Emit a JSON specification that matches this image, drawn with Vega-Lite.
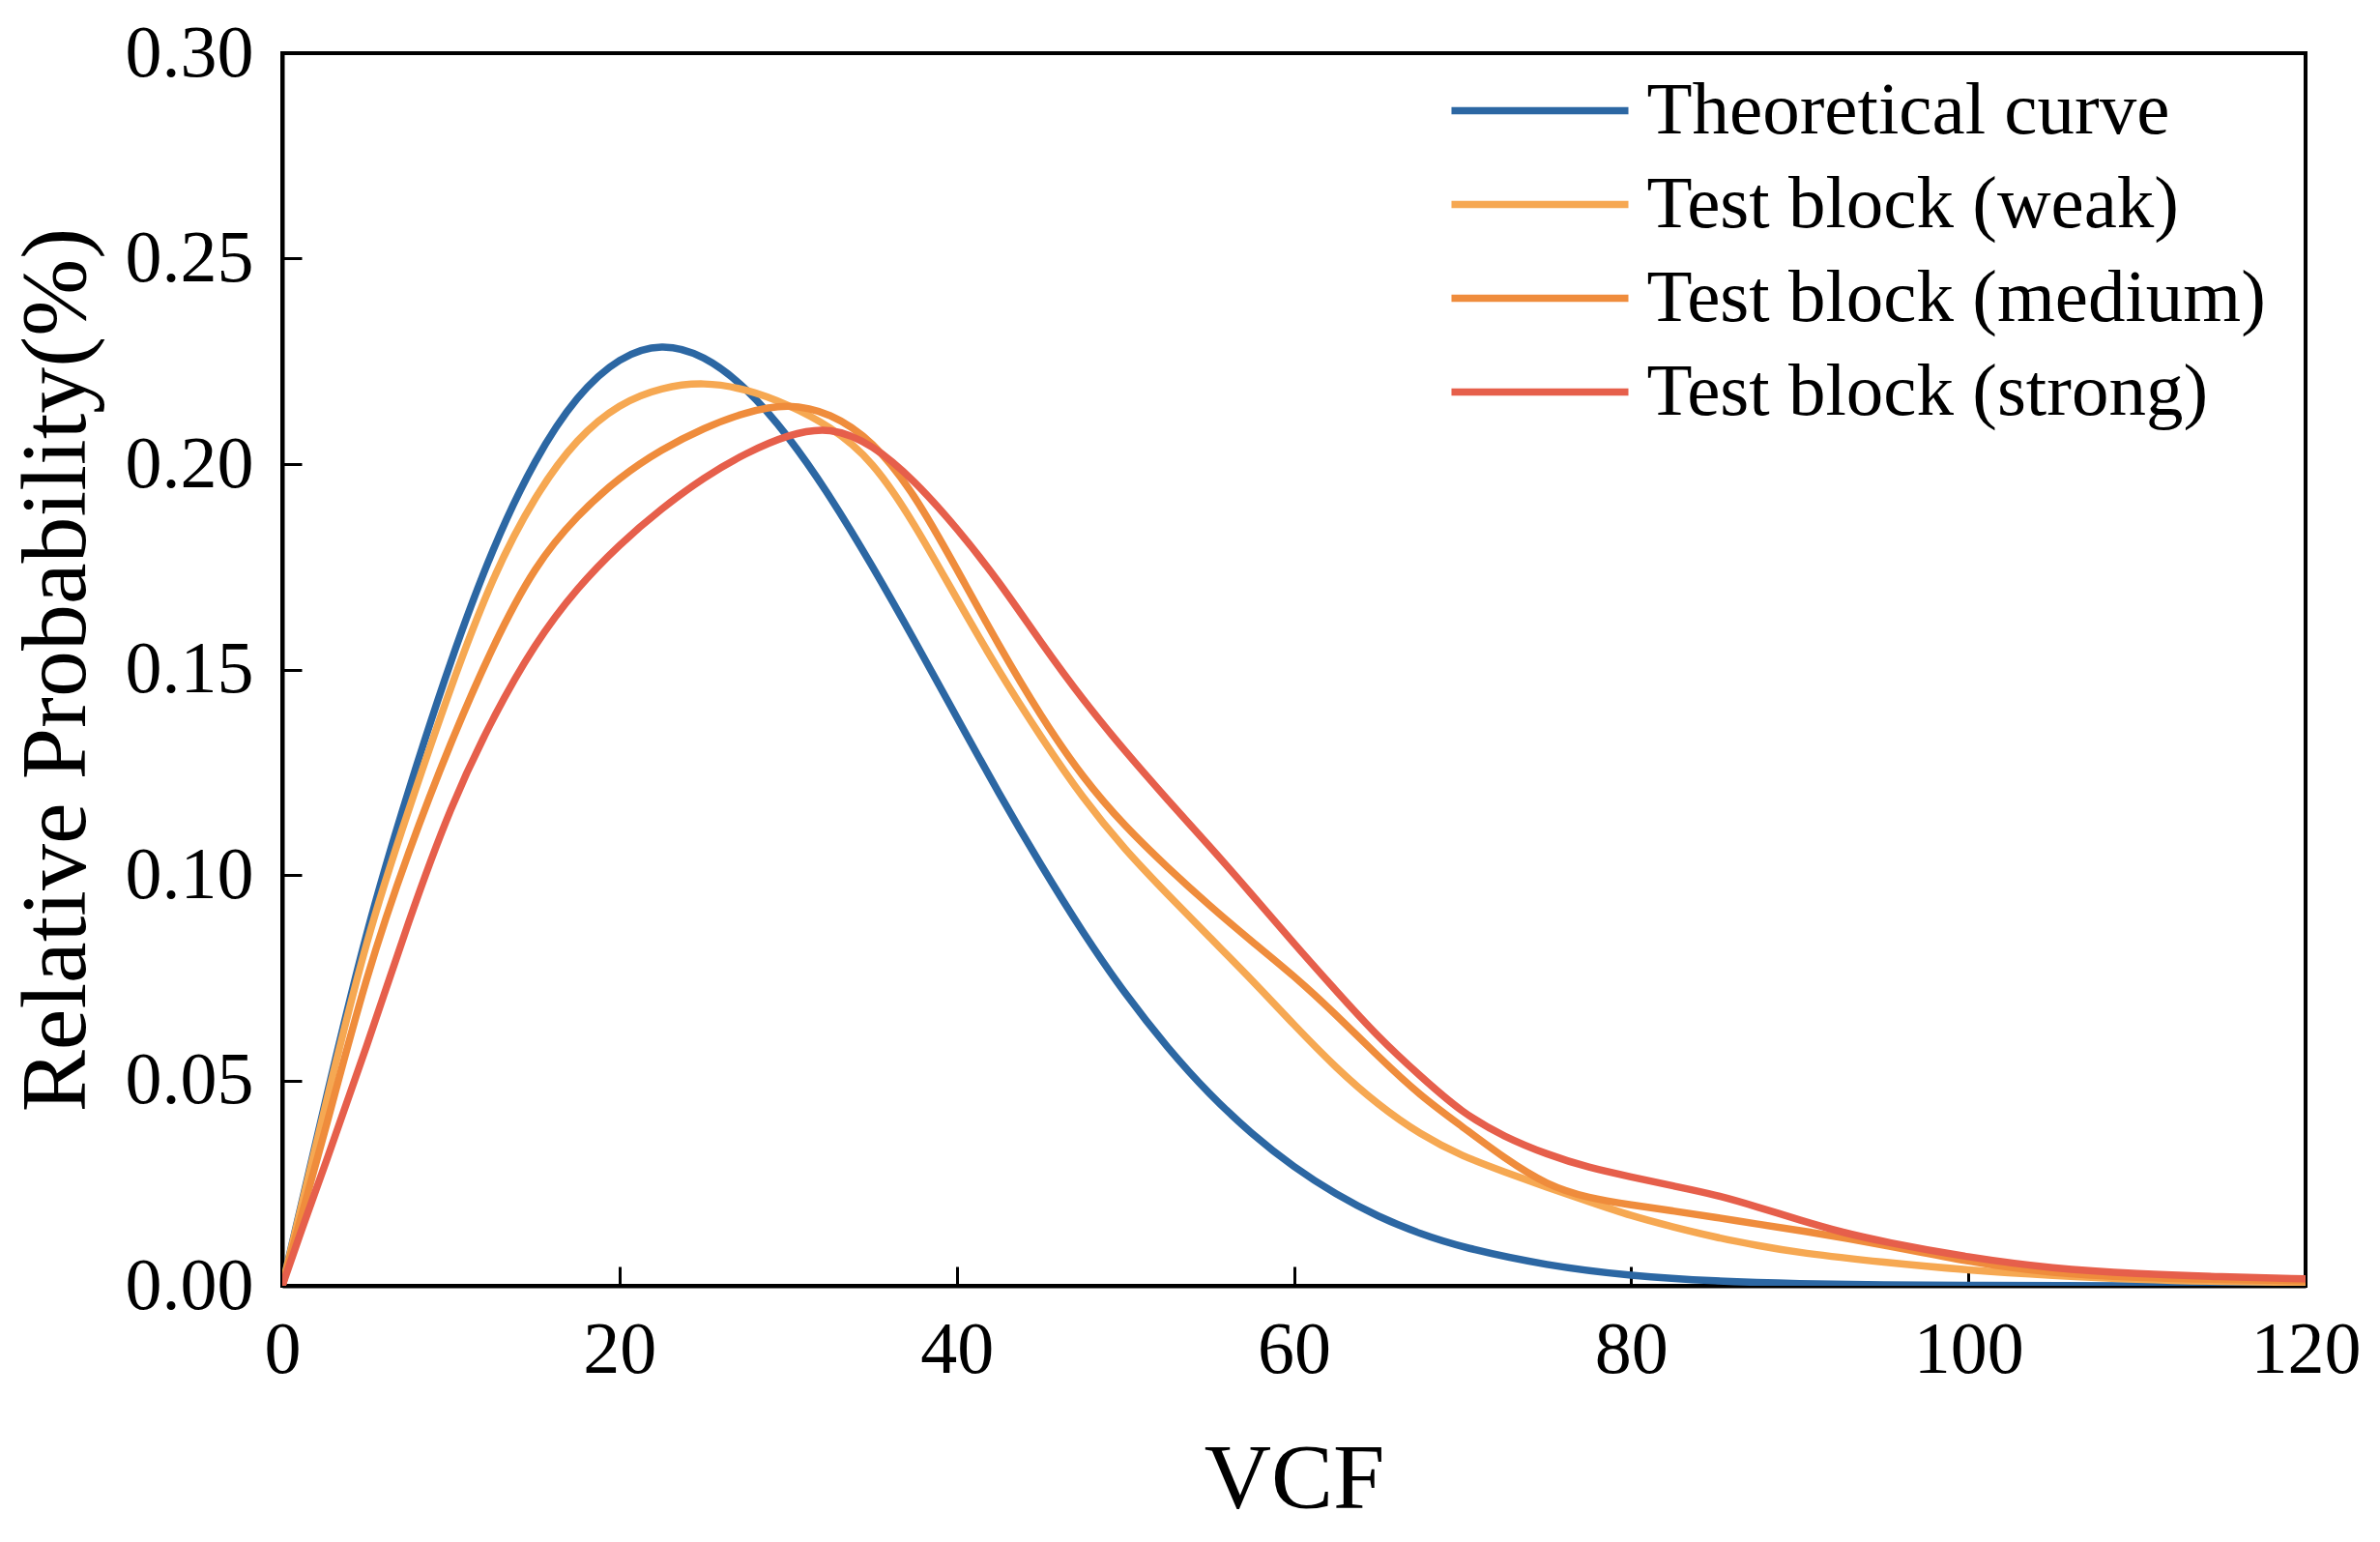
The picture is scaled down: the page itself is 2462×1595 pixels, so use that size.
{
  "$schema": "https://vega.github.io/schema/vega-lite/v6.json",
  "width": 2093,
  "height": 1275,
  "autosize": "none",
  "padding": {"left": 292, "top": 55, "right": 77, "bottom": 265},
  "background": "white",
  "config": {"view": {"stroke": "black", "strokeWidth": 4}, "font": "Liberation Serif"},
  "data": {"values": [
    {"s":"Theoretical curve","x":0,"y":0},{"s":"Theoretical curve","x":1,"y":0.0175},{"s":"Theoretical curve","x":2.5,"y":0.044},{"s":"Theoretical curve","x":5,"y":0.087},{"s":"Theoretical curve","x":7.5,"y":0.121},{"s":"Theoretical curve","x":10,"y":0.1525},{"s":"Theoretical curve","x":12.5,"y":0.18},{"s":"Theoretical curve","x":15,"y":0.2015},{"s":"Theoretical curve","x":17.5,"y":0.217},{"s":"Theoretical curve","x":20,"y":0.2262},{"s":"Theoretical curve","x":22.5,"y":0.2295},{"s":"Theoretical curve","x":25,"y":0.2266},{"s":"Theoretical curve","x":27.5,"y":0.2188},{"s":"Theoretical curve","x":30,"y":0.207},{"s":"Theoretical curve","x":32.5,"y":0.1922},{"s":"Theoretical curve","x":35,"y":0.1752},{"s":"Theoretical curve","x":37.5,"y":0.1571},{"s":"Theoretical curve","x":40,"y":0.1384},{"s":"Theoretical curve","x":42.5,"y":0.1198},{"s":"Theoretical curve","x":45,"y":0.1023},{"s":"Theoretical curve","x":47.5,"y":0.0858},{"s":"Theoretical curve","x":50,"y":0.0709},{"s":"Theoretical curve","x":52.5,"y":0.0579},{"s":"Theoretical curve","x":55,"y":0.0465},{"s":"Theoretical curve","x":57.5,"y":0.0369},{"s":"Theoretical curve","x":60,"y":0.0288},{"s":"Theoretical curve","x":62.5,"y":0.0222},{"s":"Theoretical curve","x":65,"y":0.0168},{"s":"Theoretical curve","x":67.5,"y":0.0126},{"s":"Theoretical curve","x":70,"y":0.0093},{"s":"Theoretical curve","x":75,"y":0.0049},{"s":"Theoretical curve","x":80,"y":0.0024},{"s":"Theoretical curve","x":85,"y":0.0011},{"s":"Theoretical curve","x":90,"y":0.0005},{"s":"Theoretical curve","x":95,"y":0.0002},{"s":"Theoretical curve","x":100,"y":0.0001},{"s":"Theoretical curve","x":110,"y":0},{"s":"Theoretical curve","x":120,"y":0},
    {"s":"Test block (weak)","x":0,"y":0},{"s":"Test block (weak)","x":1,"y":0.017},{"s":"Test block (weak)","x":2.5,"y":0.043},{"s":"Test block (weak)","x":5,"y":0.085},{"s":"Test block (weak)","x":7.5,"y":0.116},{"s":"Test block (weak)","x":10,"y":0.146},{"s":"Test block (weak)","x":12.5,"y":0.173},{"s":"Test block (weak)","x":15,"y":0.1925},{"s":"Test block (weak)","x":17.5,"y":0.2065},{"s":"Test block (weak)","x":20,"y":0.2148},{"s":"Test block (weak)","x":22.5,"y":0.2187},{"s":"Test block (weak)","x":25,"y":0.2200},{"s":"Test block (weak)","x":27.5,"y":0.2183},{"s":"Test block (weak)","x":30,"y":0.2145},{"s":"Test block (weak)","x":32.5,"y":0.2092},{"s":"Test block (weak)","x":35,"y":0.2010},{"s":"Test block (weak)","x":37.5,"y":0.1855},{"s":"Test block (weak)","x":40,"y":0.1672},{"s":"Test block (weak)","x":42.5,"y":0.1495},{"s":"Test block (weak)","x":45,"y":0.1335},{"s":"Test block (weak)","x":47.5,"y":0.1185},{"s":"Test block (weak)","x":50,"y":0.106},{"s":"Test block (weak)","x":52.5,"y":0.0953},{"s":"Test block (weak)","x":55,"y":0.0848},{"s":"Test block (weak)","x":57.5,"y":0.0745},{"s":"Test block (weak)","x":60,"y":0.0635},{"s":"Test block (weak)","x":62.5,"y":0.053},{"s":"Test block (weak)","x":65,"y":0.044},{"s":"Test block (weak)","x":67.5,"y":0.0368},{"s":"Test block (weak)","x":70,"y":0.0315},{"s":"Test block (weak)","x":72.5,"y":0.0277},{"s":"Test block (weak)","x":75,"y":0.024},{"s":"Test block (weak)","x":77.5,"y":0.0205},{"s":"Test block (weak)","x":80,"y":0.017},{"s":"Test block (weak)","x":82.5,"y":0.0143},{"s":"Test block (weak)","x":85,"y":0.0118},{"s":"Test block (weak)","x":87.5,"y":0.0098},{"s":"Test block (weak)","x":90,"y":0.008},{"s":"Test block (weak)","x":95,"y":0.0057},{"s":"Test block (weak)","x":100,"y":0.0038},{"s":"Test block (weak)","x":105,"y":0.0025},{"s":"Test block (weak)","x":110,"y":0.0015},{"s":"Test block (weak)","x":115,"y":0.001},{"s":"Test block (weak)","x":120,"y":0.0008},
    {"s":"Test block (medium)","x":0,"y":0},{"s":"Test block (medium)","x":1,"y":0.015},{"s":"Test block (medium)","x":2.5,"y":0.037},{"s":"Test block (medium)","x":5,"y":0.076},{"s":"Test block (medium)","x":7.5,"y":0.106},{"s":"Test block (medium)","x":10,"y":0.1325},{"s":"Test block (medium)","x":12.5,"y":0.156},{"s":"Test block (medium)","x":15,"y":0.1755},{"s":"Test block (medium)","x":17.5,"y":0.1876},{"s":"Test block (medium)","x":20,"y":0.1968},{"s":"Test block (medium)","x":22.5,"y":0.2036},{"s":"Test block (medium)","x":25,"y":0.2088},{"s":"Test block (medium)","x":27.5,"y":0.2127},{"s":"Test block (medium)","x":30,"y":0.2148},{"s":"Test block (medium)","x":32.5,"y":0.2125},{"s":"Test block (medium)","x":35,"y":0.2058},{"s":"Test block (medium)","x":37.5,"y":0.1928},{"s":"Test block (medium)","x":40,"y":0.1745},{"s":"Test block (medium)","x":42.5,"y":0.1558},{"s":"Test block (medium)","x":45,"y":0.1385},{"s":"Test block (medium)","x":47.5,"y":0.1235},{"s":"Test block (medium)","x":50,"y":0.1117},{"s":"Test block (medium)","x":52.5,"y":0.1018},{"s":"Test block (medium)","x":55,"y":0.0925},{"s":"Test block (medium)","x":57.5,"y":0.0838},{"s":"Test block (medium)","x":60,"y":0.0755},{"s":"Test block (medium)","x":62.5,"y":0.066},{"s":"Test block (medium)","x":65,"y":0.0558},{"s":"Test block (medium)","x":67.5,"y":0.0462},{"s":"Test block (medium)","x":70,"y":0.0387},{"s":"Test block (medium)","x":72.5,"y":0.031},{"s":"Test block (medium)","x":75,"y":0.0245},{"s":"Test block (medium)","x":77.5,"y":0.0213},{"s":"Test block (medium)","x":80,"y":0.0197},{"s":"Test block (medium)","x":82.5,"y":0.0182},{"s":"Test block (medium)","x":85,"y":0.0167},{"s":"Test block (medium)","x":87.5,"y":0.015},{"s":"Test block (medium)","x":90,"y":0.0135},{"s":"Test block (medium)","x":95,"y":0.01},{"s":"Test block (medium)","x":100,"y":0.0058},{"s":"Test block (medium)","x":105,"y":0.003},{"s":"Test block (medium)","x":110,"y":0.002},{"s":"Test block (medium)","x":115,"y":0.0015},{"s":"Test block (medium)","x":120,"y":0.0012},
    {"s":"Test block (strong)","x":0,"y":0},{"s":"Test block (strong)","x":1,"y":0.012},{"s":"Test block (strong)","x":2.5,"y":0.029},{"s":"Test block (strong)","x":5,"y":0.058},{"s":"Test block (strong)","x":7.5,"y":0.089},{"s":"Test block (strong)","x":10,"y":0.117},{"s":"Test block (strong)","x":12.5,"y":0.1385},{"s":"Test block (strong)","x":15,"y":0.1565},{"s":"Test block (strong)","x":17.5,"y":0.17},{"s":"Test block (strong)","x":20,"y":0.1805},{"s":"Test block (strong)","x":22.5,"y":0.1892},{"s":"Test block (strong)","x":25,"y":0.1968},{"s":"Test block (strong)","x":27.5,"y":0.2027},{"s":"Test block (strong)","x":30,"y":0.2072},{"s":"Test block (strong)","x":32.5,"y":0.2092},{"s":"Test block (strong)","x":35,"y":0.2048},{"s":"Test block (strong)","x":37.5,"y":0.196},{"s":"Test block (strong)","x":40,"y":0.1845},{"s":"Test block (strong)","x":42.5,"y":0.1715},{"s":"Test block (strong)","x":45,"y":0.1565},{"s":"Test block (strong)","x":47.5,"y":0.1425},{"s":"Test block (strong)","x":50,"y":0.13},{"s":"Test block (strong)","x":52.5,"y":0.1183},{"s":"Test block (strong)","x":55,"y":0.107},{"s":"Test block (strong)","x":57.5,"y":0.0953},{"s":"Test block (strong)","x":60,"y":0.0833},{"s":"Test block (strong)","x":62.5,"y":0.0718},{"s":"Test block (strong)","x":65,"y":0.0605},{"s":"Test block (strong)","x":67.5,"y":0.051},{"s":"Test block (strong)","x":70,"y":0.042},{"s":"Test block (strong)","x":72.5,"y":0.0362},{"s":"Test block (strong)","x":75,"y":0.032},{"s":"Test block (strong)","x":77.5,"y":0.0287},{"s":"Test block (strong)","x":80,"y":0.0265},{"s":"Test block (strong)","x":82.5,"y":0.0243},{"s":"Test block (strong)","x":85,"y":0.0222},{"s":"Test block (strong)","x":87.5,"y":0.0192},{"s":"Test block (strong)","x":90,"y":0.016},{"s":"Test block (strong)","x":92.5,"y":0.013},{"s":"Test block (strong)","x":95,"y":0.0107},{"s":"Test block (strong)","x":100,"y":0.0069},{"s":"Test block (strong)","x":105,"y":0.0042},{"s":"Test block (strong)","x":110,"y":0.0029},{"s":"Test block (strong)","x":115,"y":0.0022},{"s":"Test block (strong)","x":120,"y":0.0017}
  ]},
  "mark": {"type": "line", "strokeWidth": 7.5, "interpolate": "basis", "clip": true, "strokeCap": "round"},
  "encoding": {
    "x": {
      "field": "x", "type": "quantitative",
      "scale": {"domain": [0, 120], "nice": false, "zero": false},
      "axis": {
        "values": [0, 20, 40, 60, 80, 100, 120], "grid": false,
        "domainColor": "black", "domainWidth": 4,
        "tickColor": "black", "tickWidth": 3, "tickSize": -20,
        "labelFont": "Liberation Serif", "labelFontSize": 76, "labelColor": "black",
        "labelPadding": 49, "labelFlush": false, "labelOverlap": false,
        "title": "VCF", "titleFont": "Liberation Serif", "titleFontSize": 96,
        "titleFontWeight": "normal", "titleColor": "black", "titlePadding": 49
      }
    },
    "y": {
      "field": "y", "type": "quantitative",
      "scale": {"domain": [0, 0.3], "nice": false},
      "axis": {
        "values": [0, 0.05, 0.1, 0.15, 0.2, 0.25, 0.3], "format": ".2f", "grid": false,
        "domainColor": "black", "domainWidth": 4,
        "tickColor": "black", "tickWidth": 3, "tickSize": -20,
        "labelFont": "Liberation Serif", "labelFontSize": 76, "labelColor": "black",
        "labelPadding": 50, "labelFlush": false, "labelOverlap": false,
        "title": "Relative Probability(%)", "titleFont": "Liberation Serif", "titleFontSize": 96,
        "titleFontWeight": "normal", "titleColor": "black", "titlePadding": 22
      }
    },
    "color": {
      "field": "s", "type": "nominal",
      "scale": {
        "domain": ["Theoretical curve", "Test block (weak)", "Test block (medium)", "Test block (strong)"],
        "range": ["#2C67A3", "#F6A852", "#EF8C3C", "#E65F4B"]
      },
      "legend": {
        "orient": "none", "legendX": 1210, "legendY": 21, "title": null,
        "symbolType": "M-5,0H5", "symbolSize": 1340, "symbolStrokeWidth": 7.5,
        "symbolOffset": 52.5, "labelOffset": 72,
        "labelFont": "Liberation Serif", "labelFontSize": 77, "labelColor": "black",
        "rowPadding": 19, "padding": 0, "labelLimit": 0
      }
    }
  }
}
